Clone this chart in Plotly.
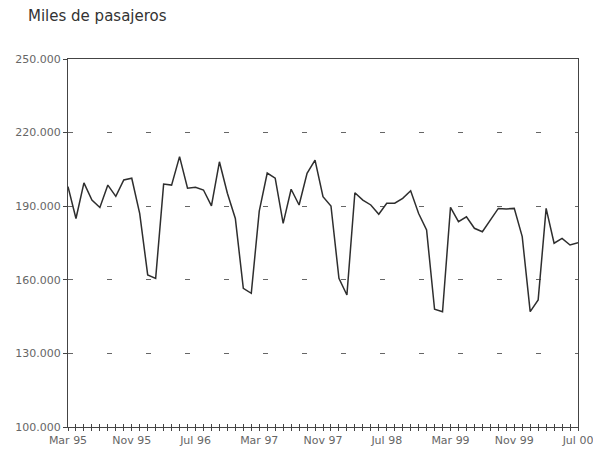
import plotly.graph_objects as go

MONTH_NAMES = ["Ene", "Feb", "Mar", "Abr", "May", "Jun", "Jul", "Ago", "Sep", "Oct", "Nov", "Dic"]
# Monthly categories Mar 95 .. Jul 00
months = []
for k in range(65):
    m = (2 + k) % 12
    y = 95 + (2 + k) // 12
    months.append(f"{MONTH_NAMES[m]} {y % 100:02d}")

passengers = [
    198000, 185000, 199500, 192500, 189500, 198600, 194000, 200700, 201400, 187000,
    162000, 160600, 199000, 198600, 210200, 197300, 197700, 196600, 190100, 208100,
    195300, 185000, 156500, 154500, 188000, 203500, 201400, 183000, 196900, 190500,
    203400, 208800, 193900, 190100, 160600, 153800, 195500, 192500, 190500, 186700,
    191200, 191200, 193200, 196300, 187000, 180300, 148000, 147000, 189500, 183700,
    185700, 181000, 179600, 184400, 189100, 188900, 189100, 177600, 147000, 151800,
    189100, 174900, 176900, 174200, 175100,
]

x_tick_labels = ["Mar 95", "Nov 95", "Jul 96", "Mar 97", "Nov 97", "Jul 98", "Mar 99", "Nov 99", "Jul 00"]
y_tick_values = [100000, 130000, 160000, 190000, 220000, 250000]
y_tick_labels = ["100.000", "130.000", "160.000", "190.000", "220.000", "250.000"]

idx = list(range(len(months)))
ticktext = [""] * len(months)
for j, lab in enumerate(x_tick_labels):
    ticktext[j * 8] = lab

fig = go.Figure()
fig.add_trace(go.Scatter(
    x=idx, y=passengers, mode="lines",
    line=dict(color="#2e2e2e", width=1.5),
    hovertext=months, showlegend=False,
))
# invisible trace for the overlaid axis (inside tick marks)
fig.add_trace(go.Scatter(x=[idx[0], idx[-1]], y=[passengers[0], passengers[-1]], xaxis="x2",
                         mode="lines", line=dict(width=0), opacity=0, showlegend=False, hoverinfo="skip"))

axis_font = dict(family="DejaVu Sans, sans-serif", size=11, color="#666666")

fig.update_layout(
    width=593, height=446,
    margin=dict(l=60, r=23, t=51, b=27, autoexpand=False),
    paper_bgcolor="white", plot_bgcolor="white",
    title=dict(text="Miles de pasajeros", x=20 / 593, xanchor="left", y=1 - 2 / 446, yanchor="top",
               font=dict(family="DejaVu Sans, sans-serif", size=15, color="#333333")),
    xaxis=dict(
        range=[0, 64], tickmode="array", tickvals=idx, ticktext=ticktext,
        ticks="outside", ticklen=3, tickcolor="#444444", tickwidth=1,
        showline=True, linecolor="#444444", linewidth=1, mirror=True,
        showgrid=False, zeroline=False, tickfont=axis_font, tickangle=0,
    ),
    xaxis2=dict(
        range=[0, 64], overlaying="x", matches="x", anchor="y", side="bottom",
        tickmode="array", tickvals=idx, showticklabels=False,
        ticks="inside", ticklen=3, tickcolor="#444444", tickwidth=1,
        showline=False, showgrid=False, zeroline=False,
    ),
    yaxis=dict(
        range=[100000, 250000], tickmode="array", tickvals=y_tick_values, ticktext=y_tick_labels,
        ticks="outside", ticklen=4, tickcolor="#444444",
        showline=True, linecolor="#444444", linewidth=1, mirror=True,
        showgrid=True, gridcolor="#666666", gridwidth=1, griddash="5px,34px",
        zeroline=False, tickfont=axis_font,
    ),
)

fig.write_html("out.html")
